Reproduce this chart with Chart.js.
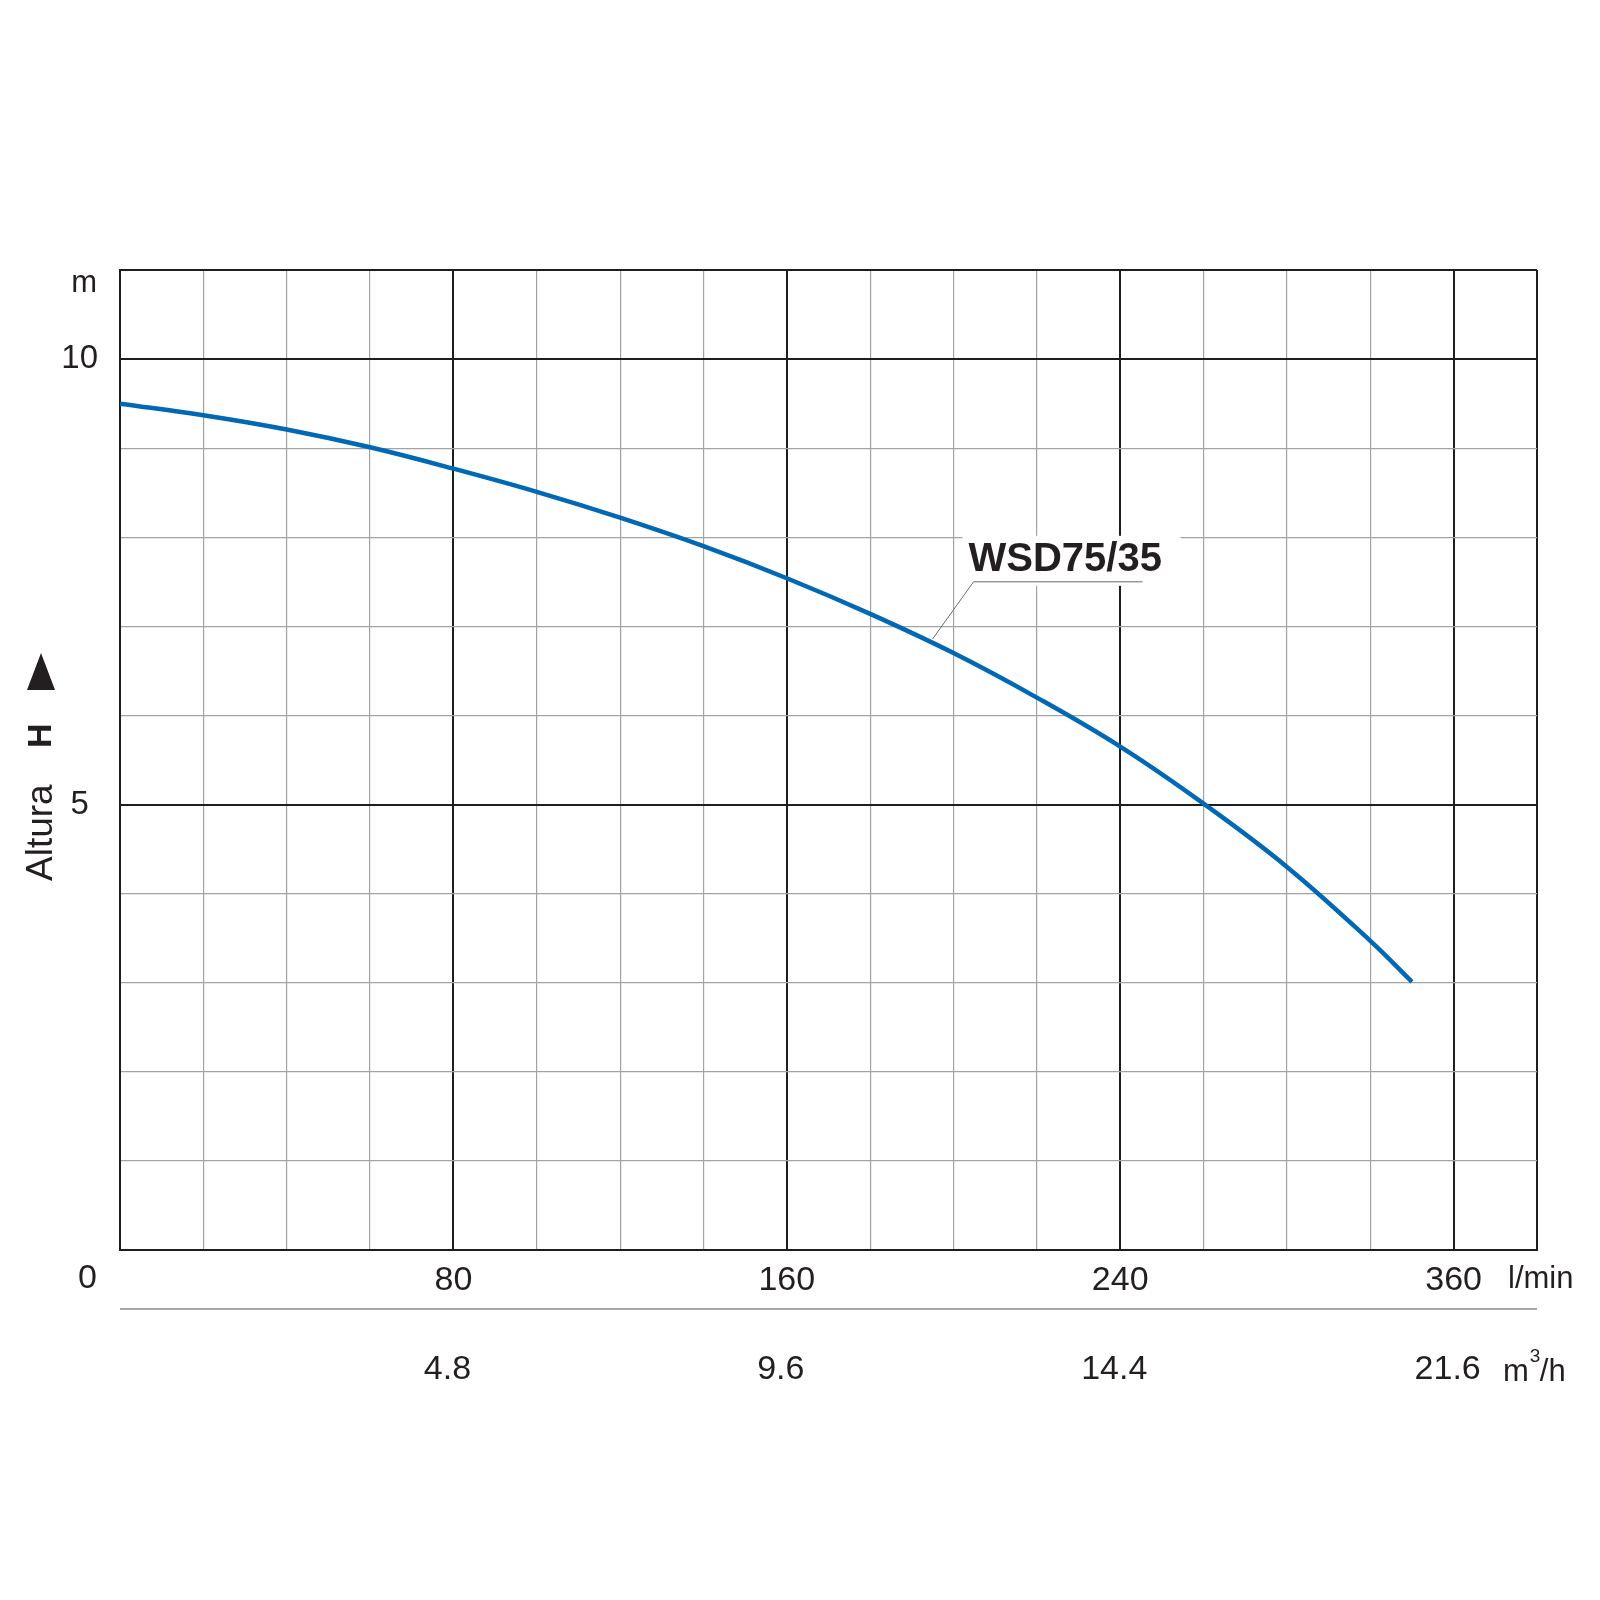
<!DOCTYPE html>
<html lang="es">
<head>
  <meta charset="UTF-8">
  <title>WSD75/35</title>
  <script src="https://cdn.jsdelivr.net/npm/chart.js"></script>
  <style>
    body {
      margin: 0;
      padding: 0;
      background-color: #fff;
    }
    #contenedor {
      width: 1600px;
      height: 1600px;
    }
  </style>
</head>
<body>

  <div id="contenedor">
    <canvas id="grafico-curva"></canvas>
  </div>

  <script>
    // Caudal (l/min) y altura (m)
    var caudal = [0, 20, 40, 60, 80, 100, 120, 140, 160, 180, 200, 220, 240, 260, 280, 300, 310];
    var altura = [9.50, 9.37, 9.21, 9.01, 8.77, 8.51, 8.22, 7.90, 7.54, 7.14, 6.70, 6.20, 5.65, 5.01, 4.30, 3.47, 3.01];

    // Etiquetas de los ejes tal como aparecen
    var etiquetasLmin = { 80: '80', 160: '160', 240: '240', 320: '360' };
    var etiquetasM3h = { 80: '4.8', 160: '9.6', 240: '14.4', 320: '21.6' };
    var etiquetasAltura = { 5: '5', 10: '10' };
    var nombreCurva = 'WSD75/35';

    var fuente = '"Liberation Sans", Arial, sans-serif';
    var colorTexto = '#231f20';

    var puntos = caudal.map(function (q, i) {
      return { x: q, y: altura[i] };
    });

    // Textos extra: eje secundario, unidades, titulo y etiqueta de la curva
    var extras = {
      id: 'extras',
      afterDraw: function (chart) {
        var ctx = chart.ctx;
        var sx = chart.scales.x;
        var sy = chart.scales.y;
        var area = chart.chartArea;
        ctx.save();

        // linea del eje m3/h
        ctx.strokeStyle = '#8a8a8a';
        ctx.lineWidth = 1.5;
        ctx.beginPath();
        ctx.moveTo(area.left, 1309);
        ctx.lineTo(area.right, 1309);
        ctx.stroke();

        ctx.fillStyle = colorTexto;
        ctx.font = '34px ' + fuente;
        ctx.textAlign = 'center';
        ctx.textBaseline = 'middle';
        Object.keys(etiquetasM3h).forEach(function (k) {
          ctx.fillText(etiquetasM3h[k], sx.getPixelForValue(+k) - 6, 1370);
        });

        ctx.textAlign = 'right';
        ctx.fillText('0', 97, 1279);

        // unidades
        ctx.font = '31px ' + fuente;
        ctx.textAlign = 'left';
        ctx.fillText('l/min', 1508, 1279);
        ctx.fillText('m', 1503, 1372);
        var wm = ctx.measureText('m').width;
        ctx.font = '19px ' + fuente;
        ctx.fillText('3', 1503 + wm + 1, 1357);
        ctx.font = '31px ' + fuente;
        ctx.fillText('/h', 1503 + wm + 11, 1372);

        ctx.textAlign = 'right';
        ctx.fillText('m', 97, 283);

        // titulo vertical: Altura H y flecha
        ctx.save();
        ctx.translate(42, 0);
        ctx.rotate(-Math.PI / 2);
        ctx.textAlign = 'left';
        ctx.font = '37px ' + fuente;
        ctx.fillText('Altura', -881, 0);
        ctx.font = 'bold 34px ' + fuente;
        ctx.fillText('H', -748, 0);
        ctx.restore();
        ctx.beginPath();
        ctx.moveTo(41, 653);
        ctx.lineTo(55, 690);
        ctx.lineTo(27, 690);
        ctx.closePath();
        ctx.fill();

        // etiqueta de la curva con fondo blanco
        var xa = sx.getPixelForValue(195);
        var ya = sy.getPixelForValue(6.86);
        var xb = sx.getPixelForValue(204.8);
        var yb = sy.getPixelForValue(7.5);
        ctx.fillStyle = '#fff';
        ctx.fillRect(xb - 11, yb - 46, 218, 50);
        ctx.strokeStyle = '#6b6b6b';
        ctx.lineWidth = 1;
        ctx.beginPath();
        ctx.moveTo(xa, ya);
        ctx.lineTo(xb, yb);
        ctx.lineTo(xb + 169, yb);
        ctx.stroke();
        ctx.fillStyle = colorTexto;
        ctx.font = 'bold 40px ' + fuente;
        ctx.textAlign = 'left';
        ctx.textBaseline = 'alphabetic';
        ctx.fillText(nombreCurva, xb - 5, yb - 11);

        ctx.restore();
      }
    };

    var ctxCurva = document.getElementById('grafico-curva').getContext('2d');
    var graficoCurva = new Chart(ctxCurva, {
      type: 'line',
      data: {
        datasets: [{
          label: nombreCurva,
          data: puntos,
          borderColor: '#0068b4',
          borderWidth: 4.5,
          pointRadius: 0,
          fill: false,
          tension: 0.4
        }]
      },
      options: {
        responsive: true,
        maintainAspectRatio: false,
        animation: false,
        layout: {
          padding: { top: 270, right: 63, bottom: 0, left: 0 }
        },
        plugins: {
          legend: { display: false },
          tooltip: { enabled: false }
        },
        scales: {
          x: {
            type: 'linear',
            min: 0,
            max: 340,
            afterFit: function (s) { s.height = 350; },
            ticks: {
              stepSize: 20,
              padding: 10,
              maxRotation: 0,
              autoSkip: false,
              color: colorTexto,
              font: { family: fuente, size: 34 },
              callback: function (v) { return etiquetasLmin[v] || ''; }
            },
            grid: {
              drawTicks: false,
              color: function (c) {
                var v = c.tick.value;
                return (v % 80 === 0 || v === 340) ? '#1e1e1e' : '#a3a3a3';
              },
              lineWidth: function (c) {
                var v = c.tick.value;
                return (v % 80 === 0 || v === 340) ? 2 : 1.2;
              }
            },
            border: { display: true, color: '#1e1e1e', width: 2 }
          },
          y: {
            min: 0,
            max: 11,
            afterFit: function (s) { s.width = 120; },
            ticks: {
              stepSize: 1,
              padding: 22,
              crossAlign: 'center',
              autoSkip: false,
              color: colorTexto,
              font: { family: fuente, size: 33 },
              callback: function (v) { return etiquetasAltura[v] || ''; }
            },
            grid: {
              drawTicks: false,
              color: function (c) {
                var v = c.tick.value;
                return (v % 5 === 0 || v === 11) ? '#1e1e1e' : '#a3a3a3';
              },
              lineWidth: function (c) {
                var v = c.tick.value;
                return (v % 5 === 0 || v === 11) ? 2 : 1.2;
              }
            },
            border: { display: true, color: '#1e1e1e', width: 2 }
          }
        }
      },
      plugins: [extras]
    });
  </script>

</body>
</html>
